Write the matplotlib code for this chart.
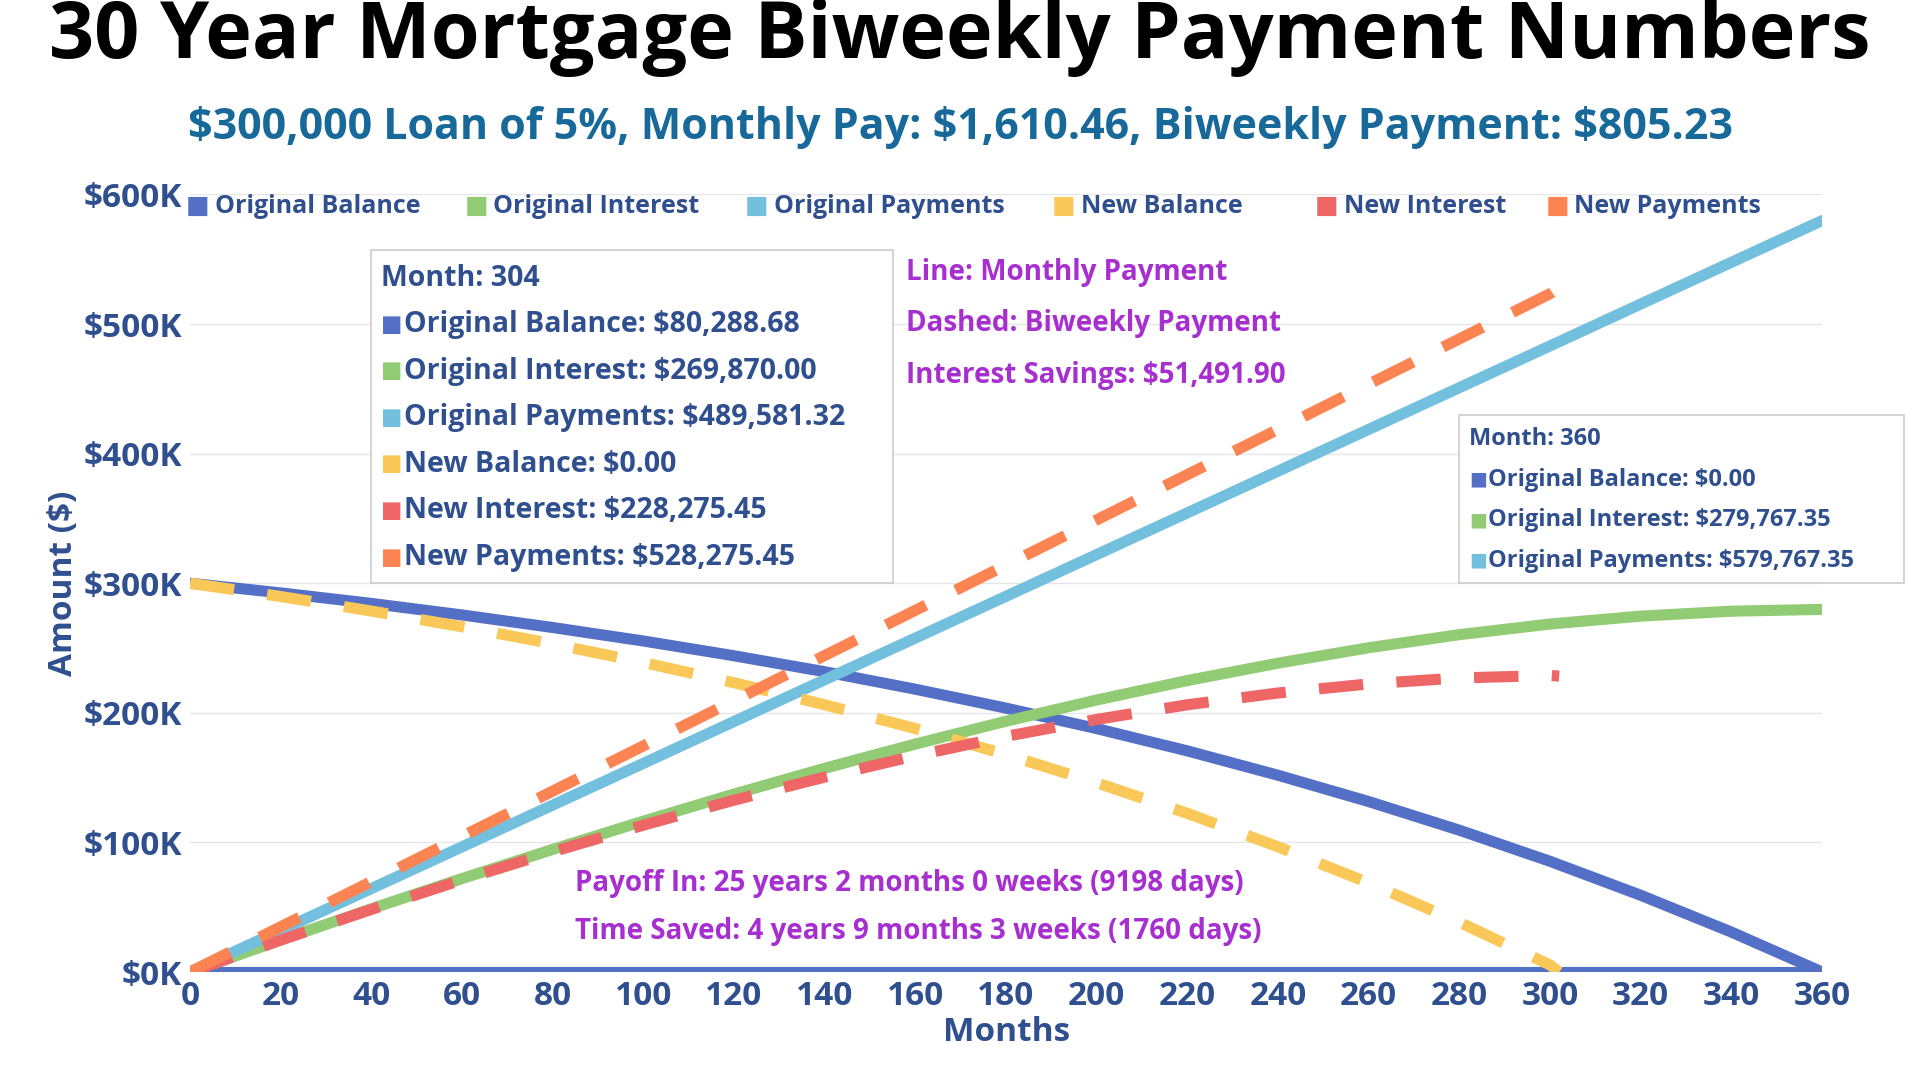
import matplotlib.pyplot as plt
from matplotlib.patches import Rectangle

plt.rcParams['font.family'] = ['Open Sans', 'DejaVu Sans']

months = [0, 20, 40, 60, 80, 100, 120, 140, 160, 180, 200, 220, 240, 260, 280, 300, 320, 340, 360]
orig_balance = [300, 292.5, 284.4, 275.5, 265.8, 255.4, 244.0, 231.7, 218.2, 203.6, 187.8, 170.6,
                151.8, 131.5, 109.4, 85.4, 59.2, 30.8, 0]
orig_interest = [0, 24.7, 48.8, 72.1, 94.6, 116.4, 137.3, 157.2, 175.9, 193.5, 209.9, 224.9,
                 238.3, 250.2, 260.3, 268.5, 274.6, 278.4, 279.8]
orig_payments = [0, 32.2, 64.4, 96.6, 128.8, 161.0, 193.3, 225.5, 257.7, 289.9, 322.1, 354.3,
                 386.5, 418.7, 450.9, 483.1, 515.4, 547.6, 579.8]

new_months = [0, 20, 40, 60, 80, 100, 120, 140, 160, 180, 200, 220, 240, 260, 280, 300, 302]
new_balance = [300, 289.7, 278.5, 266.4, 253.2, 238.8, 223.2, 206.2, 187.8, 167.8, 146.0, 122.4,
               96.6, 68.7, 38.4, 5.4, 0]
new_interest = [0, 24.6, 48.3, 71.1, 92.8, 113.3, 132.6, 150.4, 166.9, 181.8, 194.9, 206.2,
                215.3, 222.3, 226.9, 228.8, 228.3]
new_payments = [0, 34.9, 69.8, 104.7, 139.6, 174.5, 209.4, 244.2, 279.1, 314.0, 348.9, 383.8,
                418.7, 453.6, 488.5, 523.4, 528.3]

C_OB, C_OI, C_OP = "#5470c6", "#91cc75", "#73c0de"
C_NB, C_NI, C_NP = "#fac858", "#ee6666", "#fc8452"
AXC = "#2f4f8f"
PURPLE = "#a72fd0"

fig = plt.figure(figsize=(19.2, 10.8), dpi=100)
ax = fig.add_axes([0.099, 0.10, 0.850, 0.72])

ax.axhline(0, color=C_OB, lw=8, zorder=2)
ax.plot(months, orig_balance, color=C_OB, lw=8, solid_capstyle="round", zorder=3)
ax.plot(months, orig_interest, color=C_OI, lw=8, solid_capstyle="round", zorder=3)
ax.plot(months, orig_payments, color=C_OP, lw=8, solid_capstyle="round", zorder=3)
dash = (0, (4, 3))
ax.plot(new_months, new_balance, color=C_NB, lw=8, linestyle=dash, zorder=4)
ax.plot(new_months, new_interest, color=C_NI, lw=8, linestyle=dash, zorder=4)
ax.plot(new_months, new_payments, color=C_NP, lw=8, linestyle=dash, zorder=4)

ax.set_xlim(0, 360)
ax.set_ylim(0, 600)
ax.set_xticks(range(0, 361, 20))
ax.set_yticks(range(0, 601, 100))
ax.set_yticklabels([f"${v}K" for v in range(0, 601, 100)])
ax.tick_params(length=0, labelsize=24, labelcolor=AXC, pad=6)
for lab in ax.get_xticklabels() + ax.get_yticklabels():
    lab.set_fontweight("bold")
ax.grid(axis="y", color="#e6e6e6", lw=1)
for s in ax.spines.values():
    s.set_visible(False)
ax.set_xlabel("Months", fontsize=24, fontweight="bold", color=AXC, labelpad=2)
ax.set_ylabel("Amount ($)", fontsize=24, fontweight="bold", color=AXC, labelpad=2)

fig.text(0.5, 0.965, "30 Year Mortgage Biweekly Payment Numbers", ha="center", va="center",
         fontsize=57, fontweight="bold", color="black")
fig.text(0.5, 0.882, "$300,000 Loan of 5%, Monthly Pay: $1,610.46, Biweekly Payment: $805.23",
         ha="center", va="center", fontsize=31, fontweight="bold", color="#17699a")

# legend row
legend_items = [("Original Balance", C_OB), ("Original Interest", C_OI), ("Original Payments", C_OP),
                ("New Balance", C_NB), ("New Interest", C_NI), ("New Payments", C_NP)]
lx = [0.097, 0.242, 0.388, 0.548, 0.685, 0.805]
for (name, col), x in zip(legend_items, lx):
    fig.text(x, 0.809, "■", color=col, fontsize=18, va="center")
    fig.text(x + 0.015, 0.809, name, color=AXC, fontsize=18, fontweight="bold", va="center")


def tooltip(x0, x1, y0, y1, lines, fs, sq_dx):
    ax.add_patch(Rectangle((x0, y0), x1 - x0, y1 - y0, transform=ax.transData, facecolor="white",
                           edgecolor="#cccccc", lw=1.2, zorder=6, clip_on=False))
    n = len(lines)
    step = (y1 - y0) / (n + 0.15)
    for i, (txt, col) in enumerate(lines):
        y = y1 - step * (i + 0.6)
        xt = x0 + 2.2
        if col:
            ax.text(xt, y, "■", color=col, fontsize=fs * 0.8, va="center", zorder=7, clip_on=False)
            xt += sq_dx
        ax.text(xt, y, txt, color=AXC, fontsize=fs, fontweight="bold", va="center", zorder=7,
                clip_on=False)


tooltip(40, 155, 300, 557, [("Month: 304", None),
                            ("Original Balance: $80,288.68", C_OB),
                            ("Original Interest: $269,870.00", C_OI),
                            ("Original Payments: $489,581.32", C_OP),
                            ("New Balance: $0.00", C_NB),
                            ("New Interest: $228,275.45", C_NI),
                            ("New Payments: $528,275.45", C_NP)], 20.5, 5.0)
tooltip(280, 378, 300, 430, [("Month: 360", None),
                             ("Original Balance: $0.00", C_OB),
                             ("Original Interest: $279,767.35", C_OI),
                             ("Original Payments: $579,767.35", C_OP)], 17, 4.2)

for y, txt in [(540, "Line: Monthly Payment"), (500, "Dashed: Biweekly Payment"),
               (460, "Interest Savings: $51,491.90")]:
    ax.text(158, y, txt, color=PURPLE, fontsize=20, fontweight="bold", va="center")
for y, txt in [(68, "Payoff In: 25 years 2 months 0 weeks (9198 days)"),
               (31, "Time Saved: 4 years 9 months 3 weeks (1760 days)")]:
    ax.text(85, y, txt, color=PURPLE, fontsize=20, fontweight="bold", va="center")

fig.savefig("out.png", dpi=100)
